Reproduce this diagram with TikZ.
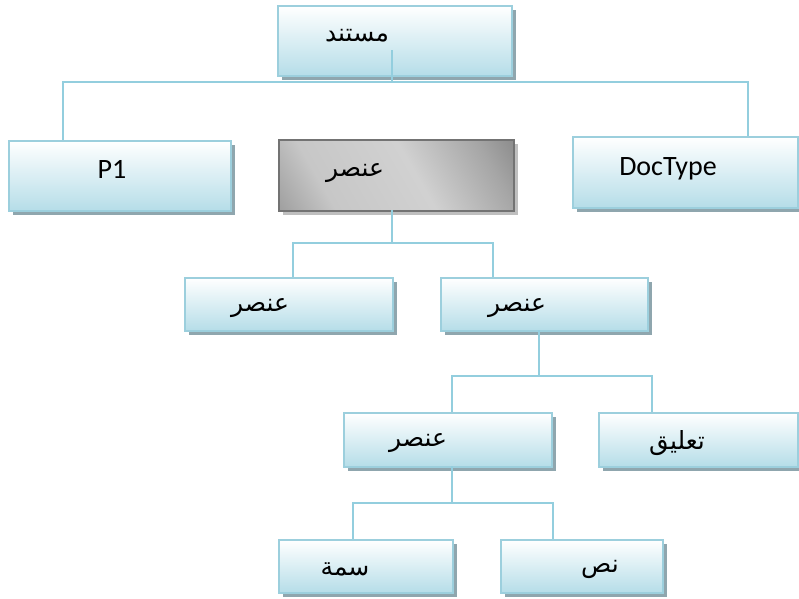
\documentclass[tikz,border=0pt]{standalone}
\usepackage{fontspec}
\setmainfont{Carlito}
\newfontfamily\arabicfont[Script=Arabic]{DejaVu Sans}
\TeXXeTstate=1
\usetikzlibrary{shadows}

\definecolor{boxblue}{HTML}{B5DDE8}
\definecolor{edgeblue}{HTML}{9CCFDD}
\definecolor{shadowgray}{HTML}{8FA6AE}
\definecolor{linkblue}{HTML}{93CEDE}

\pgfdeclareverticalshading{greyshade}{100bp}{color(0bp)=(black!55); color(30bp)=(black!22);
    color(55bp)=(black!18); color(75bp)=(black!35); color(100bp)=(black!62)}

\tikzset{
    box/.style={draw=edgeblue, line width=2pt, rectangle, anchor=north west,
        top color=white, bottom color=boxblue,
        drop shadow={shadow xshift=4pt, shadow yshift=-4pt, fill=shadowgray, opacity=1}},
    greybox/.style={draw=black!55, line width=2pt, rectangle, anchor=north west,
        shading=greyshade, shading angle=-60,
        drop shadow={shadow xshift=4pt, shadow yshift=-4pt, fill=black!25, opacity=1}},
    lbl/.style={inner sep=0pt, font=\fontsize{28}{32}\selectfont},
    albl/.style={inner sep=0pt, font=\arabicfont\fontsize{25}{28}\selectfont},
    link/.style={draw=linkblue, line width=2pt}
}
\newcommand{\ar}[1]{\beginR #1\endR}

\begin{document}
\begin{tikzpicture}[x=1pt, y=-1pt]
    \useasboundingbox (0,0) rectangle (799,598);

    % Verbindungen (zuerst, damit sie unter den Kästen liegen)
    \coordinate (rootin) at (392,50);
    \coordinate (rootbus) at (392,82);
    \coordinate (p1in) at (63,140);
    \coordinate (dtin) at (748,136);
    \draw[link] (rootin) -- (rootbus) -| (p1in);
    \draw[link] (rootbus) -| (dtin);

    % Kasten oben
    \node[box, minimum width=234pt, minimum height=70pt] (root) at (277,5) {};
    \node[albl] (rootT) at (357,36) {\ar{مستند}};
    \draw[link] (rootin) -- (rootbus);

    % zweite Reihe
    \node[box, minimum width=222pt, minimum height=70pt] (p1) at (8,140) {};
    \node[lbl] (p1T) at (112,169) {P1};
    \node[greybox, minimum width=235pt, minimum height=71pt] (elem) at (278,139) {};
    \node[albl] (elemT) at (355,173) {\ar{عنصر}};
    \node[box, minimum width=225pt, minimum height=71pt] (doctype) at (572,136) {};
    \node[lbl] (doctypeT) at (668,169) {DocType};

    % dritte Reihe
    \coordinate (elemout) at (392,210);
    \coordinate (elembus) at (392,243);
    \draw[link] (elemout) -- (elembus);
    \draw[link] (elembus) -| (293,277);
    \draw[link] (elembus) -| (493,277);
    \node[box, minimum width=208pt, minimum height=53pt] (elA) at (184,277) {};
    \node[albl] (elAT) at (260,308) {\ar{عنصر}};
    \node[box, minimum width=207pt, minimum height=53pt] (elB) at (440,277) {};
    \node[albl] (elBT) at (517,308) {\ar{عنصر}};

    % vierte Reihe
    \coordinate (elBout) at (539,330);
    \coordinate (elBbus) at (539,376);
    \draw[link] (elBout) -- (elBbus);
    \draw[link] (elBbus) -| (452,412);
    \draw[link] (elBbus) -| (652,412);
    \node[box, minimum width=208pt, minimum height=54pt] (elC) at (343,412) {};
    \node[albl] (elCT) at (418,443) {\ar{عنصر}};
    \node[box, minimum width=199pt, minimum height=54pt] (comment) at (598,412) {};
    \node[albl] (commentT) at (677,443) {\ar{تعليق}};

    % unterste Reihe
    \coordinate (elCout) at (452,466);
    \coordinate (elCbus) at (452,503);
    \draw[link] (elCout) -- (elCbus);
    \draw[link] (elCbus) -| (353,539);
    \draw[link] (elCbus) -| (553,539);
    \node[box, minimum width=174pt, minimum height=53pt] (attr) at (278,539) {};
    \node[albl] (attrT) at (345,569) {\ar{سمة}};
    \node[box, minimum width=162pt, minimum height=53pt] (txt) at (500,539) {};
    \node[albl] (txtT) at (600,569) {\ar{نص}};
\end{tikzpicture}
\end{document}
